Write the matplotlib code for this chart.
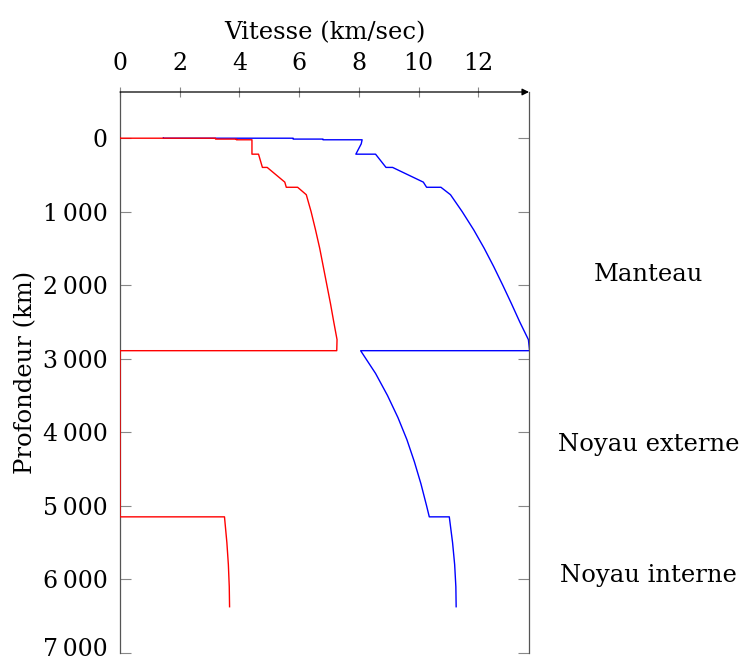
import matplotlib
matplotlib.use("Agg")
import matplotlib.pyplot as plt
import matplotlib.transforms as mtransforms

# PREM-like profile (depth km, velocity km/s)
depth_vp = [0, 3, 3, 15, 15, 24.4, 24.4, 80, 220, 220, 400, 400, 600, 670, 670, 771,
            1000, 1250, 1500, 1750, 2000, 2250, 2500, 2741, 2891,
            2891, 3200, 3500, 3800, 4100, 4400, 4700, 5000, 5149.5,
            5149.5, 5500, 5800, 6100, 6371]
vp = [1.45, 1.45, 5.80, 5.80, 6.80, 6.80, 8.11, 8.08, 7.90, 8.56, 8.91, 9.13, 10.16, 10.27, 10.75, 11.07,
      11.46, 11.85, 12.20, 12.52, 12.82, 13.11, 13.39, 13.68, 13.72,
      8.06, 8.56, 8.96, 9.31, 9.61, 9.86, 10.08, 10.27, 10.36,
      11.03, 11.14, 11.21, 11.25, 11.26]

depth_vs = [0, 3, 3, 15, 15, 24.4, 24.4, 80, 220, 220, 400, 400, 600, 670, 670, 771,
            1000, 1250, 1500, 1750, 2000, 2250, 2500, 2741, 2891,
            2891, 5149.5,
            5149.5, 5500, 5800, 6100, 6371]
vs = [0.00, 0.00, 3.20, 3.20, 3.90, 3.90, 4.42, 4.42, 4.42, 4.64, 4.77, 4.93, 5.52, 5.57, 5.95, 6.24,
      6.40, 6.55, 6.69, 6.81, 6.93, 7.05, 7.16, 7.27, 7.26,
      0.00, 0.00,
      3.50, 3.58, 3.63, 3.66, 3.67]

x_ticks = [0, 2, 4, 6, 8, 10, 12]
y_ticks = [0, 1000, 2000, 3000, 4000, 5000, 6000, 7000]
y_ticklabels = ["0", "1\u2009000", "2\u2009000", "3\u2009000", "4\u2009000",
                "5\u2009000", "6\u2009000", "7\u2009000"]
regions = ["Manteau", "Noyau externe", "Noyau interne"]
region_depths = [1860, 4160, 5940]

plt.rcParams['font.family'] = ['DejaVu Serif']
fig = plt.figure(figsize=(7.45, 6.64), dpi=100)
ax = fig.add_axes([120/745, 1-653/664, 409/745, 561/664])

ax.plot(vp, depth_vp, color='blue', lw=1.0, zorder=2)
ax.plot(vs, depth_vs, color='red', lw=1.0, zorder=3)

ax.set_xlim(0, 13.7)
ax.set_ylim(7000, -625)

ax.xaxis.tick_top()
ax.xaxis.set_label_position('top')
ax.set_xticks(x_ticks)
ax.set_yticks(y_ticks)
ax.set_yticklabels(y_ticklabels)

ax.tick_params(axis='x', direction='inout', length=7, width=0.8, color='#888888',
               labelsize=17, pad=9)
ax.tick_params(axis='y', direction='in', length=8, width=0.8, color='#888888',
               labelsize=17, pad=9, right=True)

# keep the lowest tick label inside the figure
last = ax.get_yticklabels()[-1]
last.set_transform(last.get_transform() +
                   mtransforms.ScaledTranslation(0, 4/72, fig.dpi_scale_trans))

ax.spines['top'].set_visible(False)
ax.spines['bottom'].set_visible(False)
for s in ['left', 'right']:
    ax.spines[s].set_color('#555555')
    ax.spines[s].set_linewidth(0.9)

ax.annotate('', xy=(1.0, 1.0), xytext=(0.0, 1.0), xycoords='axes fraction',
            textcoords='axes fraction',
            arrowprops=dict(arrowstyle='-|>', color='black', lw=0.9,
                            mutation_scale=10, shrinkA=0, shrinkB=0))

ax.set_xlabel('Vitesse (km/sec)', fontsize=17.5, labelpad=9)
ax.set_ylabel('Profondeur (km)', fontsize=17.5, labelpad=4)

for name, d in zip(regions, region_depths):
    ax.text(1.293, d, name, transform=ax.get_yaxis_transform(), ha='center',
            va='center', fontsize=17.5, clip_on=False)

fig.savefig('out.png', dpi=100)
